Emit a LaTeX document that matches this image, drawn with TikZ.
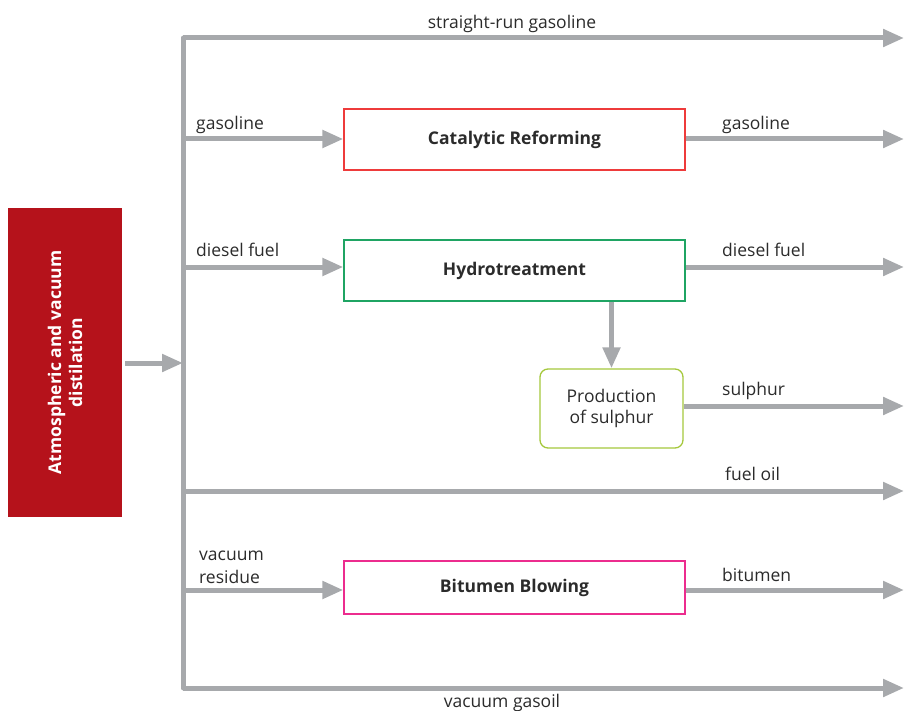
\documentclass[tikz,border=0pt]{standalone}
\usepackage{fontspec}
\setmainfont{Open Sans}
\usetikzlibrary{arrows.meta,positioning}
\definecolor{flowgray}{HTML}{A7A9AC}
\definecolor{distred}{HTML}{B5121B}
\definecolor{reformred}{HTML}{EE3B3B}
\definecolor{hydrogreen}{HTML}{1FA463}
\definecolor{sulphgreen}{HTML}{A5C83C}
\definecolor{bitpink}{HTML}{EC2C8E}
\definecolor{txt}{HTML}{2B2B2B}
\tikzset{
  pipe/.style={draw=flowgray, line width=5pt},
  flow/.style={pipe, -{Triangle[length=21pt,width=17pt]}},
  unit/.style={draw, line width=1.3pt, minimum width=341pt, minimum height=61pt,
    inner sep=0pt, font=\fontsize{17.5}{21}\selectfont\bfseries, text=txt},
  lbl/.style={anchor=base west, inner sep=0pt, font=\fontsize{17.5}{21}\selectfont, text=txt}
}
\begin{document}
\begin{tikzpicture}[x=1pt,y=-1pt]
\useasboundingbox (0,0) rectangle (904,711);

% distillation column
\node[fill=distred, minimum width=114pt, minimum height=309pt, inner sep=0pt] (dist) at (65,362.5) {};
\node[rotate=90, text=white, align=center, font=\fontsize{17.5}{21}\selectfont\bfseries] at (dist.center) {Atmospheric and vacuum\\distilation};

% bus
\coordinate (bustop) at (183,38);
\coordinate (busin) at (183,363);
\coordinate (busbot) at (183,688);
\draw[pipe, line cap=round] (bustop) -- (busbot);

% process units
\node[unit, draw=reformred] (reform) at (514.5,139.5) {Catalytic Reforming};
\node[unit, draw=hydrogreen] (hydro) at (514.5,270.5) {Hydrotreatment};
\node[unit, draw=bitpink, minimum height=53pt] (bitumen) at (514.5,587.5) {Bitumen Blowing};
\node[draw=sulphgreen, line width=1.3pt, rounded corners=8pt, minimum width=143pt, minimum height=79pt,
  align=center, text=txt, font=\fontsize{17.5}{21}\selectfont] (sulph) at (611.5,408.5) {Production\\of sulphur};

% branch points and outlets
\coordinate (b1) at (183,139);
\coordinate (b2) at (183,267);
\coordinate (b3) at (183,491);
\coordinate (b4) at (183,590);
\coordinate (o0) at (904,38);
\coordinate (o1) at (904,139);
\coordinate (o2) at (904,267);
\coordinate (o3) at (904,406);
\coordinate (o4) at (904,491);
\coordinate (o5) at (904,590);
\coordinate (o6) at (904,688);

% flows
\draw[flow] ([xshift=3pt]dist.east |- busin) -- (busin);
\draw[flow] (bustop) -- (o0);
\draw[flow] (b1) -- (reform.west |- b1);
\draw[flow] (reform.east |- o1) -- (o1);
\draw[flow] (b2) -- (hydro.west |- b2);
\draw[flow] (hydro.east |- o2) -- (o2);
\draw[flow] (hydro.south -| sulph.north) -- (sulph.north);
\draw[flow] (sulph.east |- o3) -- (o3);
\draw[flow] (b3) -- (o4);
\draw[flow] (b4) -- (bitumen.west |- b4);
\draw[flow] (bitumen.east |- o5) -- (o5);
\draw[flow] (busbot) -- (o6);

% labels
\node[lbl, anchor=base] (l0) at (512,29) {straight-run gasoline};
\node[lbl] (l1) at (196,130) {gasoline};
\node[lbl] (l2) at (722,130) {gasoline};
\node[lbl] (l3) at (196,256) {diesel fuel};
\node[lbl] (l4) at (722,256) {diesel fuel};
\node[lbl] (l5) at (722,395) {sulphur};
\node[lbl] (l6) at (725,480) {fuel oil};
\node[lbl] (l7) at (199,560) {vacuum};
\node[lbl] (l8) at (199,583) {residue};
\node[lbl] (l9) at (722,581) {bitumen};
\node[lbl, anchor=base] (l10) at (502,707) {vacuum gasoil};
\end{tikzpicture}
\end{document}
